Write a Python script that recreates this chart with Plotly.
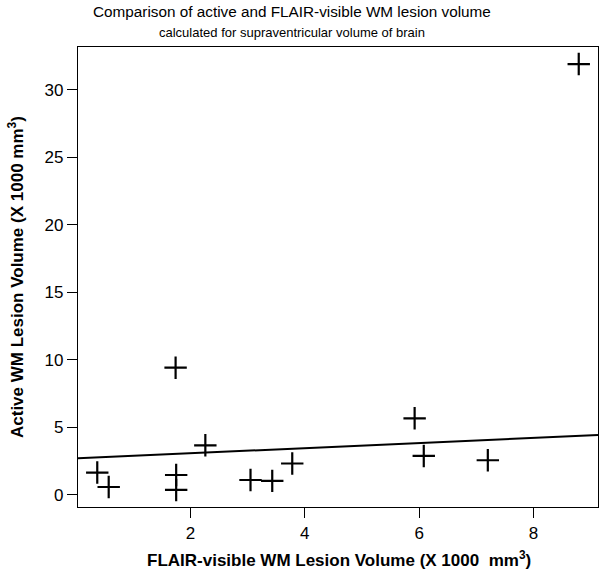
import numpy as np
import plotly.graph_objects as go

# Data
flair_volume = [0.37, 0.57, 1.74, 1.75, 1.75, 2.26, 3.05, 3.43, 3.78, 5.92, 6.08, 7.20, 8.79]
active_volume = [1.63, 0.56, 9.40, 1.45, 0.34, 3.65, 1.08, 1.01, 2.30, 5.65, 2.86, 2.54, 31.9]
fit_coef = [2.68, 0.189]  # intercept, slope of the drawn regression line
x_ticks = [2, 4, 6, 8]
y_ticks = [0, 5, 10, 15, 20, 25, 30]

def r_range(v):
    lo, hi = min(v), max(v)
    d = (hi - lo) * 0.04
    return [lo - d, hi + d]

xr = r_range(flair_volume)
yr = r_range(active_volume)
line_x = np.array(xr)
line_y = fit_coef[0] + fit_coef[1] * line_x

FONT = "Liberation Sans, Arial, Helvetica, sans-serif"

fig = go.Figure()
fig.add_trace(go.Scatter(x=line_x, y=line_y, mode="lines",
                         line=dict(color="black", width=2), showlegend=False, hoverinfo="skip"))
fig.add_trace(go.Scatter(x=flair_volume, y=active_volume, mode="markers",
                         marker=dict(symbol="cross-thin", size=16,
                                     line=dict(color="black", width=2.2), color="black"),
                         showlegend=False))

axis_common = dict(showgrid=False, zeroline=False, showline=True, linecolor="black", linewidth=1.2,
                   mirror=True, ticks="outside", ticklen=10, tickwidth=1, tickcolor="black",
                   tickfont=dict(family=FONT, size=17, color="black"))

fig.update_xaxes(range=xr, tickvals=x_ticks, ticktext=[str(t) for t in x_ticks], **axis_common)
fig.update_yaxes(range=yr, tickvals=y_ticks, ticktext=[str(t) for t in y_ticks], **axis_common)

L, R, T, B = 78, 598, 47, 507
pw = R - L
ph = B - T

def px(x):
    return (x - L) / pw

def py(y):
    return (B - y) / ph

fig.update_layout(
    width=600, height=571,
    margin=dict(l=L, r=600 - R, t=T, b=571 - B),
    plot_bgcolor="white", paper_bgcolor="white",
    font=dict(family=FONT, color="black"),
    annotations=[
        dict(text="Comparison of active and FLAIR-visible WM lesion volume", xref="paper", yref="paper",
             x=px(292), y=py(11), xanchor="center", yanchor="middle", showarrow=False,
             font=dict(family=FONT, size=15.3, color="black")),
        dict(text="calculated for supraventricular volume of brain", xref="paper", yref="paper",
             x=px(292), y=py(33), xanchor="center", yanchor="middle", showarrow=False,
             font=dict(family=FONT, size=13, color="black")),
        dict(text="<b>FLAIR-visible WM Lesion Volume (X 1000  mm<sup>3</sup>)</b>", xref="paper", yref="paper",
             x=px(339), y=py(559), xanchor="center", yanchor="middle", showarrow=False,
             font=dict(family=FONT, size=17, color="black")),
        dict(text="<b>Active WM Lesion Volume (X 1000 mm<sup>3</sup>)</b>", xref="paper", yref="paper",
             x=px(16), y=py(277), xanchor="center", yanchor="middle", showarrow=False,
             textangle=-90, font=dict(family=FONT, size=17, color="black")),
    ],
)

fig.write_html("out.html", config={"displayModeBar": False},
               post_script="document.body.style.margin='0';document.body.style.padding='0';")
